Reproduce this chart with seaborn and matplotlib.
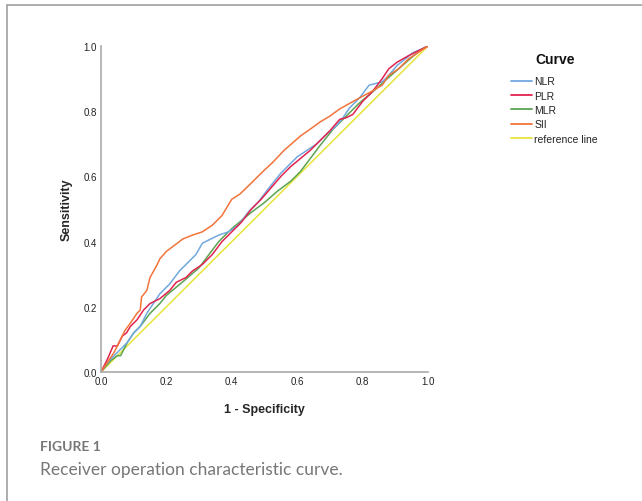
import matplotlib
matplotlib.use("Agg")
import matplotlib.pyplot as plt
from matplotlib.lines import Line2D
import seaborn as sns
import pandas as pd

# ---- data ----
nlr_x = [0, 0.02, 0.04, 0.06, 0.08, 0.10, 0.12, 0.14, 0.16, 0.18, 0.21, 0.24, 0.27, 0.29, 0.31, 0.33, 0.36, 0.39,
         0.42, 0.45, 0.48, 0.51, 0.55, 0.58, 0.60, 0.63, 0.66, 0.69, 0.72, 0.74, 0.76, 0.79, 0.82, 0.84, 0.86,
         0.88, 0.905, 0.93, 0.955, 0.98, 1.0]
nlr_y = [0, 0.03, 0.05, 0.07, 0.09, 0.12, 0.14, 0.18, 0.21, 0.24, 0.27, 0.31, 0.34, 0.36, 0.395, 0.405, 0.42,
         0.43, 0.45, 0.49, 0.52, 0.56, 0.61, 0.64, 0.66, 0.68, 0.70, 0.73, 0.755, 0.78, 0.81, 0.84, 0.88, 0.885,
         0.89, 0.91, 0.94, 0.96, 0.98, 0.99, 1.0]

plr_x = [0, 0.02, 0.037, 0.05, 0.065, 0.078, 0.09, 0.11, 0.13, 0.15, 0.18, 0.21, 0.23, 0.26, 0.28, 0.31, 0.34,
         0.37, 0.40, 0.43, 0.46, 0.49, 0.52, 0.55, 0.58, 0.61, 0.64, 0.67, 0.70, 0.73, 0.75, 0.77, 0.80, 0.83,
         0.86, 0.88, 0.905, 0.94, 0.97, 1.0]
plr_y = [0, 0.04, 0.08, 0.08, 0.11, 0.12, 0.14, 0.16, 0.19, 0.21, 0.225, 0.25, 0.275, 0.29, 0.31, 0.33, 0.36,
         0.40, 0.43, 0.46, 0.50, 0.53, 0.565, 0.60, 0.63, 0.655, 0.68, 0.71, 0.74, 0.775, 0.78, 0.79, 0.83, 0.86,
         0.90, 0.93, 0.95, 0.97, 0.985, 1.0]

mlr_x = [0, 0.03, 0.05, 0.06, 0.08, 0.10, 0.12, 0.15, 0.18, 0.20, 0.23, 0.26, 0.30, 0.33, 0.36, 0.40, 0.43,
         0.46, 0.50, 0.54, 0.58, 0.61, 0.64, 0.67, 0.71, 0.75, 0.79, 0.835, 0.87, 0.91, 0.95, 0.98, 1.0]
mlr_y = [0, 0.035, 0.05, 0.05, 0.09, 0.12, 0.14, 0.18, 0.21, 0.235, 0.26, 0.285, 0.32, 0.36, 0.40, 0.44, 0.465,
         0.49, 0.52, 0.555, 0.585, 0.615, 0.655, 0.695, 0.745, 0.785, 0.825, 0.863, 0.895, 0.93, 0.965, 0.99, 1.0]

sii_x = [0, 0.02, 0.04, 0.06, 0.073, 0.09, 0.11, 0.12, 0.124, 0.14, 0.15, 0.17, 0.18, 0.2, 0.22, 0.25, 0.28,
         0.31, 0.34, 0.37, 0.40, 0.425, 0.46, 0.49, 0.526, 0.56, 0.61, 0.64, 0.67, 0.70, 0.73, 0.78, 0.83, 0.86,
         0.88, 0.91, 0.94, 0.97, 1.0]
sii_y = [0, 0.03, 0.06, 0.10, 0.127, 0.15, 0.18, 0.19, 0.23, 0.25, 0.29, 0.326, 0.347, 0.37, 0.385, 0.408, 0.42,
         0.43, 0.45, 0.48, 0.53, 0.546, 0.58, 0.61, 0.644, 0.68, 0.724, 0.745, 0.767, 0.785, 0.807, 0.835, 0.862,
         0.88, 0.91, 0.93, 0.96, 0.98, 1.0]

ref_x = [0.0, 1.0]
ref_y = [0.0, 1.0]

curve_names = ["NLR", "PLR", "MLR", "SII", "reference line"]
curve_colors = ["#72a8e0", "#e2234f", "#5aa451", "#f2743a", "#e6e43c"]
tick_vals = [0.0, 0.2, 0.4, 0.6, 0.8, 1.0]
tick_labels = ["0.0", "0.2", "0.4", "0.6", "0.8", "1.0"]

frames = []
for name, xs, ys in zip(curve_names,
                        [nlr_x, plr_x, mlr_x, sii_x, ref_x],
                        [nlr_y, plr_y, mlr_y, sii_y, ref_y]):
    frames.append(pd.DataFrame({"fpr": xs, "tpr": ys, "Curve": name}))
df = pd.concat(frames, ignore_index=True)

sns.set_style("white")
plt.rcParams["font.family"] = ["Liberation Sans", "DejaVu Sans"]

fig = plt.figure(figsize=(6.42, 5.02), dpi=100)
ax = fig.add_axes([101 / 642, 1 - 373 / 502, 327 / 642, 326 / 502])

draw_order = ["reference line", "MLR", "NLR", "PLR", "SII"]
pal = dict(zip(curve_names, curve_colors))
for name in draw_order:
    sub = df[df["Curve"] == name]
    sns.lineplot(data=sub, x="fpr", y="tpr", color=pal[name], sort=False, estimator=None,
                 linewidth=1.1, ax=ax, legend=False)

ax.set_xlim(0, 1)
ax.set_ylim(0, 1)
ax.set_xticks(tick_vals)
ax.set_xticklabels(tick_labels)
ax.set_yticks(tick_vals)
ax.set_yticklabels(tick_labels)
ax.tick_params(axis="both", length=0, labelsize=7, pad=3, colors="#222222")
for s in ["top", "right"]:
    ax.spines[s].set_visible(False)
for s in ["left", "bottom"]:
    ax.spines[s].set_color("#aaaaaa")
    ax.spines[s].set_linewidth(1.2)

ax.set_xlabel("1 - Specificity", fontsize=9, fontweight="bold", labelpad=12)
ax.set_ylabel("Sensitivity", fontsize=9, fontweight="bold", labelpad=8)

handles = [Line2D([0], [0], color=c, lw=1.3) for c in curve_colors]
leg = ax.legend(handles, curve_names, loc="upper left",
                bbox_to_anchor=(506 / 642, 1 - 72 / 502), bbox_transform=fig.transFigure,
                frameon=False, fontsize=7.5, handlelength=2.0, handletextpad=0.2,
                labelspacing=0.42, borderpad=0)
for t in leg.get_texts():
    t.set_color("#222222")
fig.text(555 / 642, 1 - 60 / 502, "Curve", fontsize=10, fontweight="bold", color="#111111",
         ha="center", va="center")

# page frame lines
fig.add_artist(Line2D([7 / 642, 7 / 642], [0, 1 - 6 / 502], transform=fig.transFigure,
                      color="#a0a0a0", lw=1.2))
fig.add_artist(Line2D([7 / 642, 1], [1 - 6 / 502, 1 - 6 / 502], transform=fig.transFigure,
                      color="#a0a0a0", lw=1.2))

fig.text(40 / 642, 1 - 447 / 502, "FIGURE 1", fontsize=10, fontweight="bold", color="#777777",
         family=["Lato", "DejaVu Sans"], va="center", ha="left")
fig.text(40 / 642, 1 - 470 / 502, "Receiver operation characteristic curve.", fontsize=12.5,
         color="#777777", family=["Lato", "DejaVu Sans"], va="center", ha="left")

fig.savefig("out.png", dpi=100)
